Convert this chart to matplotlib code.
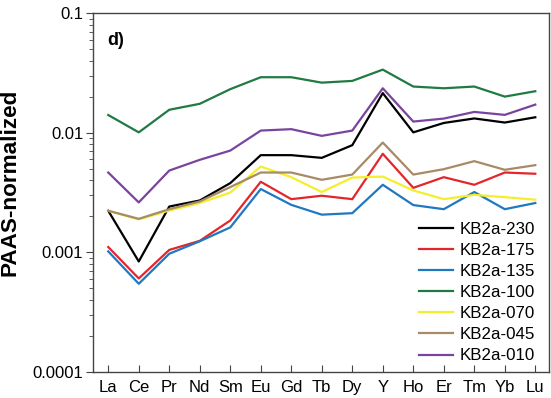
import matplotlib
matplotlib.use('Agg')
import matplotlib.pyplot as plt
from matplotlib.ticker import FixedLocator, FuncFormatter, LogLocator, NullFormatter

plt.rcParams['font.family'] = ['Liberation Sans', 'DejaVu Sans']

# REE + Y in PAAS-normalized order
elements = ['La', 'Ce', 'Pr', 'Nd', 'Sm', 'Eu', 'Gd', 'Tb', 'Dy', 'Y',
            'Ho', 'Er', 'Tm', 'Yb', 'Lu']

kb2a_230 = [0.00223, 0.00084, 0.00242, 0.00272, 0.0038, 0.00651, 0.00651, 0.00618,
            0.00789, 0.0215, 0.0101, 0.0121, 0.0132, 0.0122, 0.0135]
kb2a_175 = [0.00111, 0.000606, 0.00105, 0.00125, 0.00185, 0.0039, 0.00279, 0.00298,
            0.00279, 0.00668, 0.00347, 0.00426, 0.00368, 0.00466, 0.00455]
kb2a_135 = [0.00102, 0.000547, 0.000975, 0.00124, 0.00162, 0.00339, 0.0025, 0.00207,
            0.00213, 0.00368, 0.00249, 0.0023, 0.0032, 0.0023, 0.00259]
kb2a_100 = [0.0141, 0.0101, 0.0156, 0.0175, 0.0232, 0.0292, 0.0292, 0.0263,
            0.0272, 0.0338, 0.0244, 0.0236, 0.0244, 0.0201, 0.0223]
kb2a_070 = [0.00223, 0.00189, 0.00224, 0.00259, 0.00317, 0.00523, 0.00426, 0.0032,
            0.00423, 0.00431, 0.0033, 0.00279, 0.00303, 0.0029, 0.00276]
kb2a_045 = [0.00223, 0.00191, 0.0023, 0.00267, 0.00352, 0.00466, 0.00466, 0.00405,
            0.00448, 0.0083, 0.00448, 0.00497, 0.0058, 0.00491, 0.00537]
kb2a_010 = [0.00466, 0.00262, 0.00484, 0.00595, 0.00711, 0.01045, 0.01074, 0.00944,
            0.01045, 0.0236, 0.01243, 0.01317, 0.01497, 0.01414, 0.01723]

samples = ['KB2a-230', 'KB2a-175', 'KB2a-135', 'KB2a-100', 'KB2a-070', 'KB2a-045', 'KB2a-010']
series = [kb2a_230, kb2a_175, kb2a_135, kb2a_100, kb2a_070, kb2a_045, kb2a_010]
colors = ['#000000', '#e3262b', '#1f78c0', '#217a42', '#f3ef2c', '#a88a66', '#7a449e']

fig = plt.figure(figsize=(5.51, 3.98), dpi=100)
ax = fig.add_axes([0.1688, 0.0653, 0.8276, 0.9013])

x = list(range(len(elements)))
for name, vals, c in zip(samples, series, colors):
    ax.plot(x, vals, color=c, lw=1.6, label=name)

ax.set_yscale('log')
ax.set_ylim(0.0001, 0.1)
ax.set_xlim(-0.5, 14.45)

ax.set_xticks(x)
ax.set_xticklabels(elements, fontsize=12)
ax.tick_params(axis='x', direction='in', length=5, width=0.8, pad=6, color='#444444')

ax.yaxis.set_major_locator(FixedLocator([0.0001, 0.001, 0.01, 0.1]))
ax.yaxis.set_major_formatter(FuncFormatter(lambda v, p: f'{v:g}' if v >= 0.001 else '0.0001'))
ax.yaxis.set_minor_locator(LogLocator(base=10, subs=range(2, 10)))
ax.yaxis.set_minor_formatter(NullFormatter())
ax.tick_params(axis='y', which='major', direction='out', length=5, width=0.8, labelsize=12, pad=2, color='#444444')
ax.tick_params(axis='y', which='minor', direction='out', length=3, width=0.6, color='#444444')

for s in ax.spines.values():
    s.set_color('#444444')
    s.set_linewidth(1.0)

ax.set_ylabel('PAAS-normalized', fontsize=16.2, fontweight='bold')
ax.yaxis.set_label_coords(-0.158, 0.53)
ax.text(0.031, 0.911, 'd)', transform=ax.transAxes, fontsize=13, fontweight='bold', va='baseline')

ax.legend(loc='lower right', bbox_to_anchor=(0.985, 0.005), frameon=False, fontsize=12.2,
          handlelength=2.0, handletextpad=0.41, labelspacing=0.355, borderaxespad=0.0)

fig.savefig('out.png', dpi=100)
